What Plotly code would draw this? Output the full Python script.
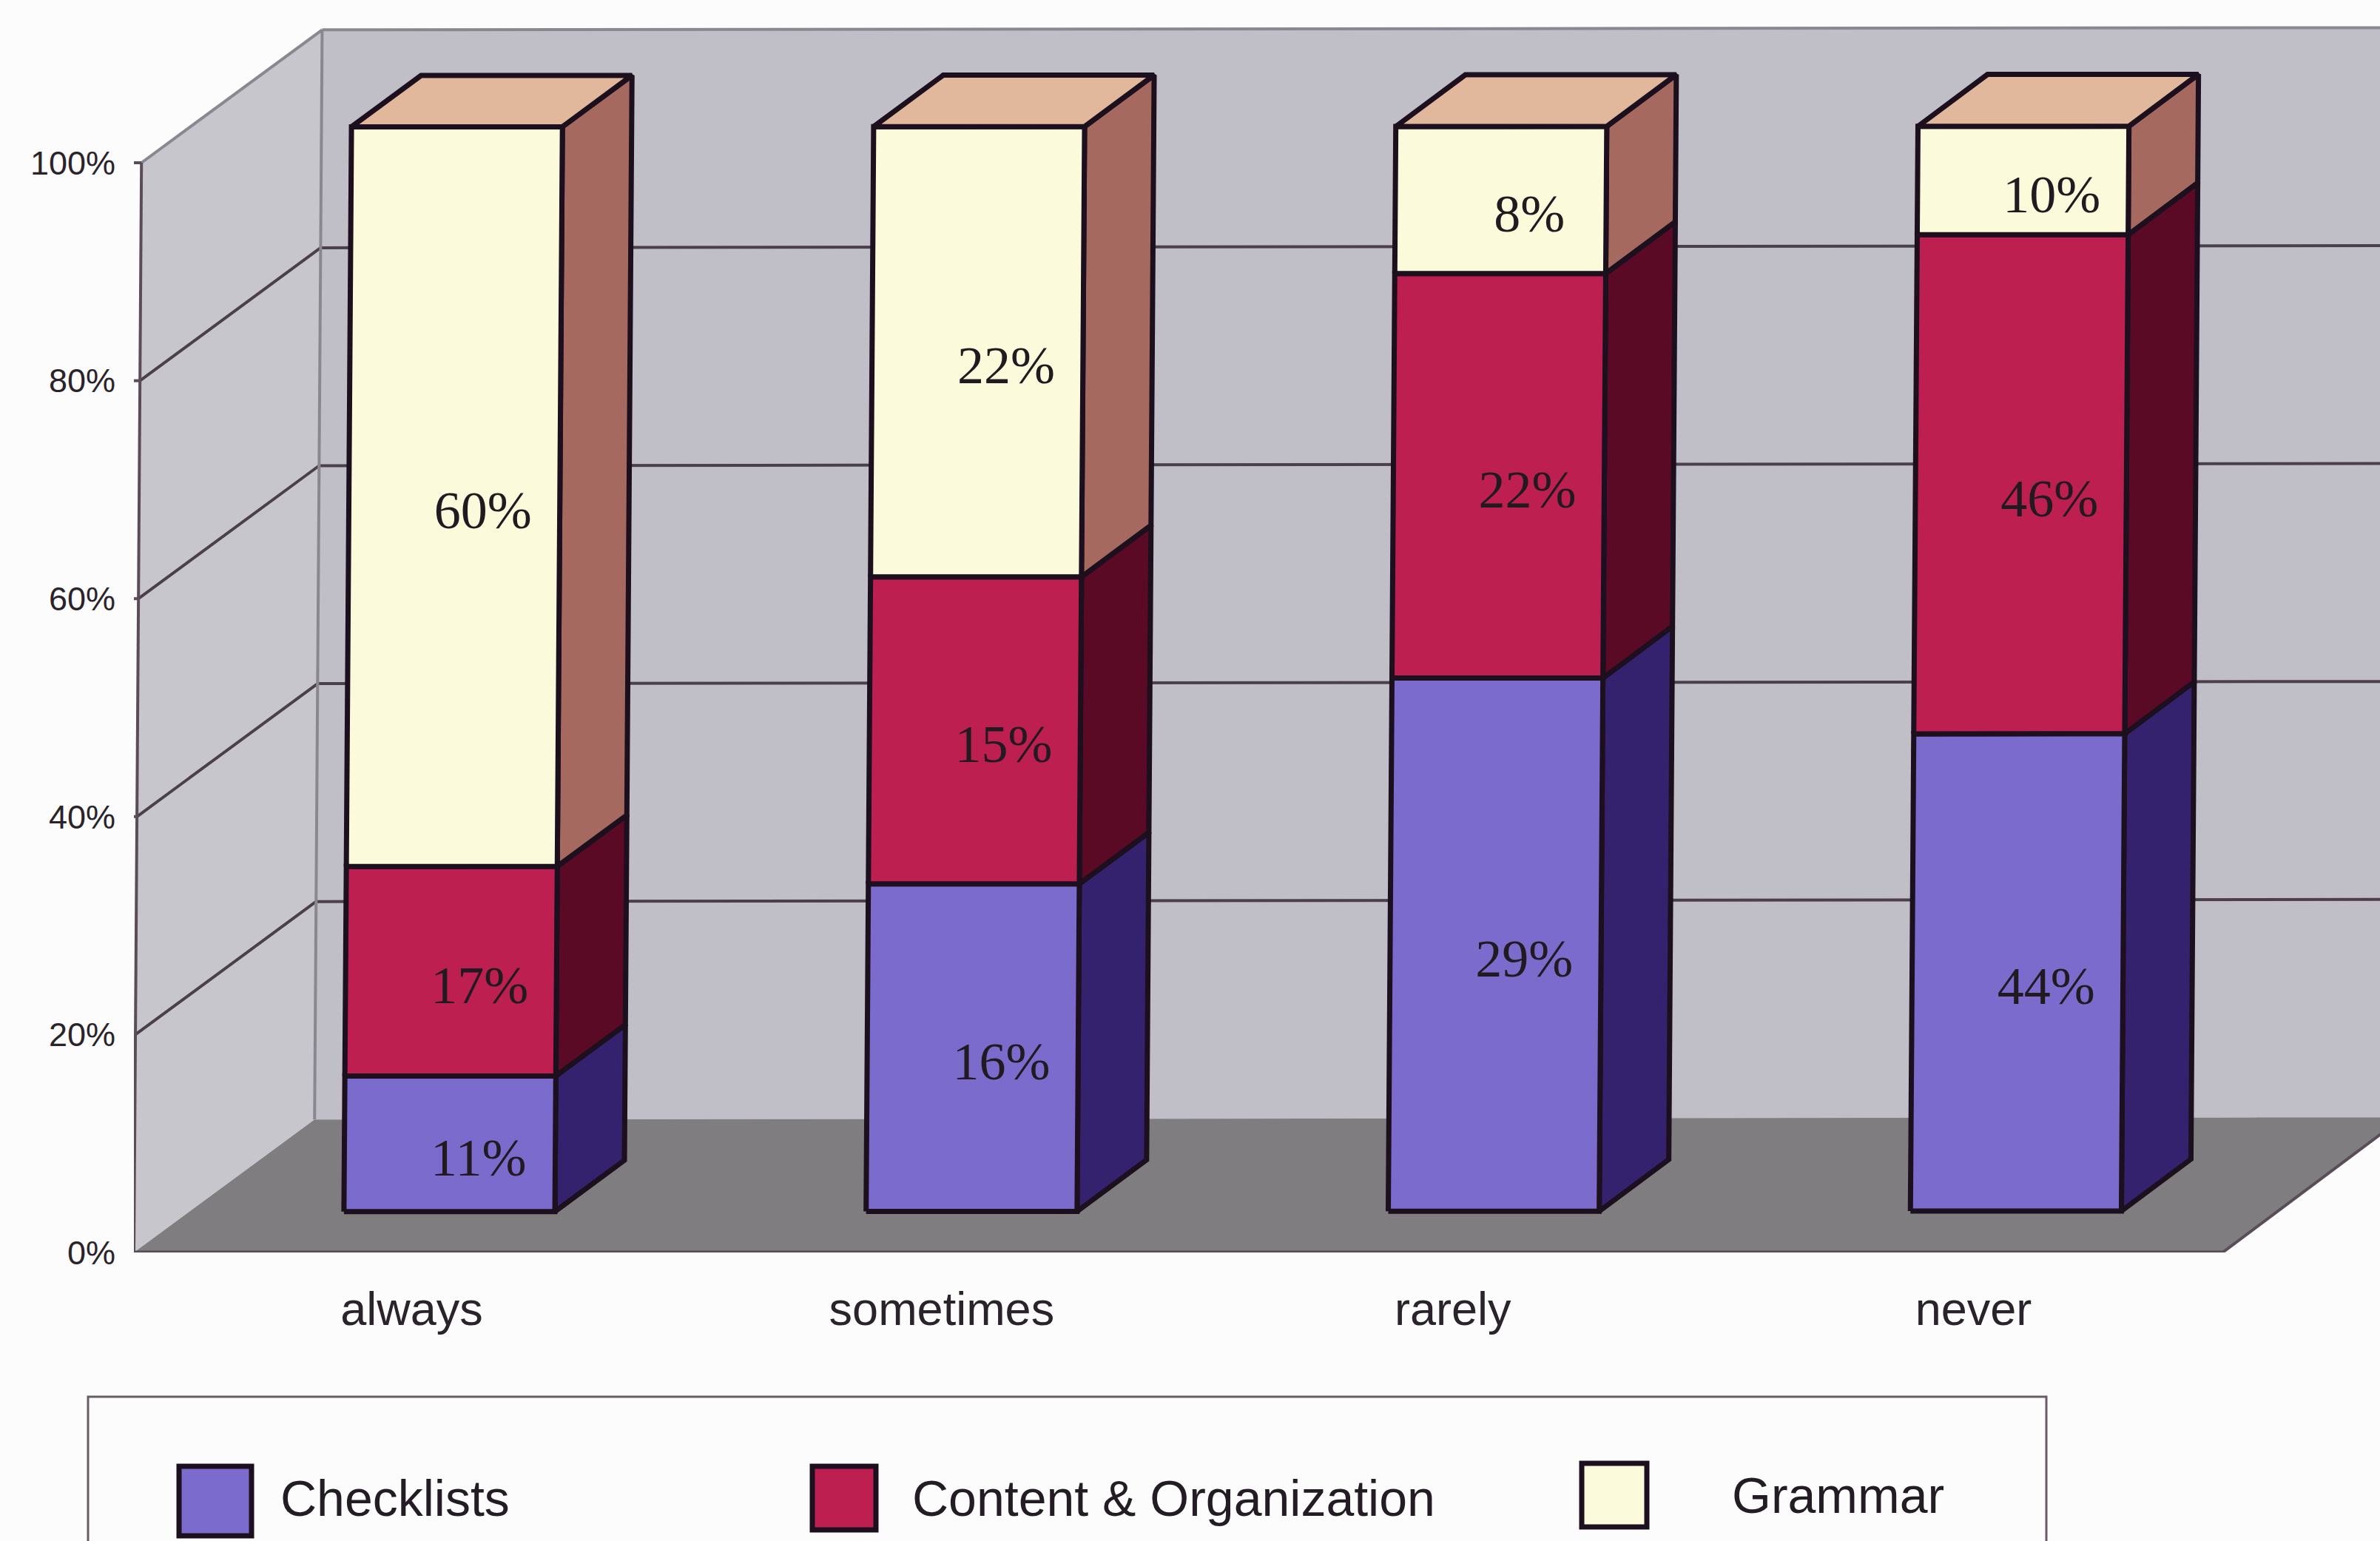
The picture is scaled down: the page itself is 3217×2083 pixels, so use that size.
import plotly.graph_objects as go

# ---------- data (raw survey percentages; each column is drawn as a 100% stack) ----------
categories = ["always", "sometimes", "rarely", "never"]
checklists = [11, 16, 29, 44]
content = [17, 15, 22, 46]
grammar = [60, 22, 8, 10]
series_names = ["Checklists", "Content & Organization", "Grammar"]
y_ticks = [0, 20, 40, 60, 80, 100]
y_tick_labels = ["0%", "20%", "40%", "60%", "80%", "100%"]

# ---------- styling ----------
W, H = 3217, 2083
PX_U = 705.8          # pixels per category
PX_P = 14.73          # pixels per percent
AX_X, AX_Y = 181, 1693
FRONT = ["#7b6bcc", "#bd2050", "#fbfadb"]
SIDE = ["#35226f", "#5a0a25", "#a5695f"]
TOP = "#e2b89d"
EDGE = "#1c0f1e"
PAGE = "#fcfcfd"
WALL = "#c0bec6"
SIDEWALL = "#c8c6cd"
FLOOR = "#7f7d80"
AXISC = "#5b4c58"
GRID = "#4a3f4a"
SERIF = "Liberation Serif, serif"
SANS = "Liberation Sans, Arial, sans-serif"

DX, DY = 0.346, 12.2  # oblique shift of the depth axis (x units, percent units)
SKEW = 0.000145       # slant of the scanned page
TILT = 0.05
BAR_L, BAR_W = 0.296, 0.404
BAR_D0, BAR_D1 = 0.307, 0.692
BAR_SCALE = 0.9955
LABEL_DU, LABEL_DP = 0.055, -1.7
X_LABEL_POS = [0.532, 1.547, 2.526, 3.523]


def proj(u, p, d=0.0):
    return u + SKEW * p + DX * d, p + DY * d + TILT * u * d


def poly(pts, fill, line=None, width=0, name=None):
    xs, ys = zip(*[proj(*q) for q in pts + pts[:1]])
    return go.Scatter(x=xs, y=ys, mode="lines", fill="toself", fillcolor=fill,
                      line=dict(color=line or fill, width=width), showlegend=False,
                      hoverinfo="skip", name=name)


def seg(a, b, color, width):
    xs, ys = zip(proj(*a), proj(*b))
    return go.Scatter(x=xs, y=ys, mode="lines", line=dict(color=color, width=width),
                      showlegend=False, hoverinfo="skip")


fig = go.Figure()
N = len(categories)

# walls and floor
fig.add_trace(poly([(0, 0, 1), (N, 0, 1), (N, 100, 1), (0, 100, 1)], WALL))
fig.add_trace(poly([(0, 0, 0), (0, 0, 1), (0, 100, 1), (0, 100, 0)], SIDEWALL))
fig.add_trace(poly([(0, 0, 0), (N, 0, 0), (N, 0, 1), (0, 0, 1)], FLOOR))

# gridlines
for p in y_ticks[1:-1]:
    fig.add_trace(seg((0, p, 0), (0, p, 1), GRID, 4))
    fig.add_trace(seg((0, p, 1), (N, p, 1), GRID, 4))
fig.add_trace(seg((0, 100, 0), (0, 100, 1), "#8b8790", 4))
fig.add_trace(seg((0, 100, 1), (N, 100, 1), "#8b8790", 4))
fig.add_trace(seg((0, 0, 1), (0, 100, 1), "#8b8790", 4))

# axis lines and ticks
fig.add_trace(seg((0, 0, 0), (0, 100, 0), AXISC, 4))
fig.add_trace(seg((0, 0, 0), (N, 0, 0), AXISC, 5))
fig.add_trace(seg((N, 0, 0), (N, 0, 1), AXISC, 4))
for p in y_ticks:
    fig.add_trace(seg((0, p, 0), (-0.028, p, 0), AXISC, 4))
for u in range(N + 1):
    fig.add_trace(seg((u, 0, 0), (u, -1.9, 0), AXISC, 4))

# bars
stacks = [checklists, content, grammar]
for i in range(N):
    vals = [s[i] for s in stacks]
    total = sum(vals)
    l, r = i + BAR_L, i + BAR_L + BAR_W
    base = 0.0
    for j, v in enumerate(vals):
        h = v / total * 100 * BAR_SCALE
        p0, p1 = base, base + h
        fig.add_trace(poly([(r, p0, BAR_D0), (r, p0, BAR_D1), (r, p1, BAR_D1), (r, p1, BAR_D0)],
                           SIDE[j], EDGE, 7))
        fig.add_trace(poly([(l, p0, BAR_D0), (r, p0, BAR_D0), (r, p1, BAR_D0), (l, p1, BAR_D0)],
                           FRONT[j], EDGE, 7, name=series_names[j]))
        base = p1
    fig.add_trace(poly([(l, base, BAR_D0), (r, base, BAR_D0), (r, base, BAR_D1), (l, base, BAR_D1)],
                       TOP, EDGE, 7))

# value labels
for j, s in enumerate(stacks):
    xs, ys, txt = [], [], []
    for i in range(N):
        vals = [t[i] for t in stacks]
        total = sum(vals)
        mid = (sum(vals[:j]) + vals[j] / 2) / total * 100 * BAR_SCALE
        x, y = proj(i + BAR_L + BAR_W / 2 + LABEL_DU, mid + LABEL_DP, BAR_D0)
        xs.append(x); ys.append(y); txt.append(f"{vals[j]}%")
    fig.add_trace(go.Scatter(x=xs, y=ys, mode="text", text=txt, showlegend=False, hoverinfo="skip",
                             textfont=dict(family=SERIF, size=72, color="#211a20")))

# legend, drawn as a frame with swatches because it is cut by the page edge
def fx(px): return px / W
def fy(px): return 1 - px / H

shapes = [dict(type="rect", xref="paper", yref="paper", x0=fx(119), x1=fx(2766), y0=fy(1888), y1=fy(2200),
               line=dict(color="#6a5c66", width=3), fillcolor=PAGE, layer="below")]
swatches = [(242, 340, 1982, 2076), (1098, 1184, 1982, 2068), (2138, 2226, 1978, 2064)]
legend_text_x = [377, 1231, 2339]
legend_text_y = [2025, 2025, 2021]
annotations = []
for j, name in enumerate(series_names):
    a, b, c, d = swatches[j]
    shapes.append(dict(type="rect", xref="paper", yref="paper", x0=fx(a), x1=fx(b), y0=fy(c), y1=fy(d),
                       line=dict(color=EDGE, width=7), fillcolor=FRONT[j]))
    annotations.append(dict(xref="paper", yref="paper", x=fx(legend_text_x[j]), y=fy(legend_text_y[j]),
                            text=name, showarrow=False, xanchor="left", yanchor="middle",
                            font=dict(family=SANS, size=68, color="#241c24")))

fig.update_layout(
    width=W, height=H, autosize=False,
    margin=dict(l=0, r=0, t=0, b=0, pad=0, autoexpand=False),
    paper_bgcolor=PAGE, plot_bgcolor="rgba(0,0,0,0)", showlegend=False,
    shapes=shapes, annotations=annotations,
    xaxis=dict(domain=[AX_X / W, 1], range=[0, (W - AX_X) / PX_U], showgrid=False, zeroline=False,
               showline=False, ticks="", tickmode="array", tickvals=X_LABEL_POS, ticktext=categories,
               ticklabelstandoff=34, tickangle=0, automargin=False,
               tickfont=dict(family=SANS, size=63, color="#2b232b")),
    yaxis=dict(domain=[(H - AX_Y) / H, 1], range=[0, AX_Y / PX_P], showgrid=False, zeroline=False,
               showline=False, ticks="", tickmode="array", tickvals=y_ticks, ticktext=y_tick_labels,
               ticklabelstandoff=24, automargin=False,
               tickfont=dict(family=SANS, size=45, color="#2b232b")),
)

fig.write_html("out.html", config=dict(displayModeBar=False),
               post_script="document.body.style.margin='0';")
